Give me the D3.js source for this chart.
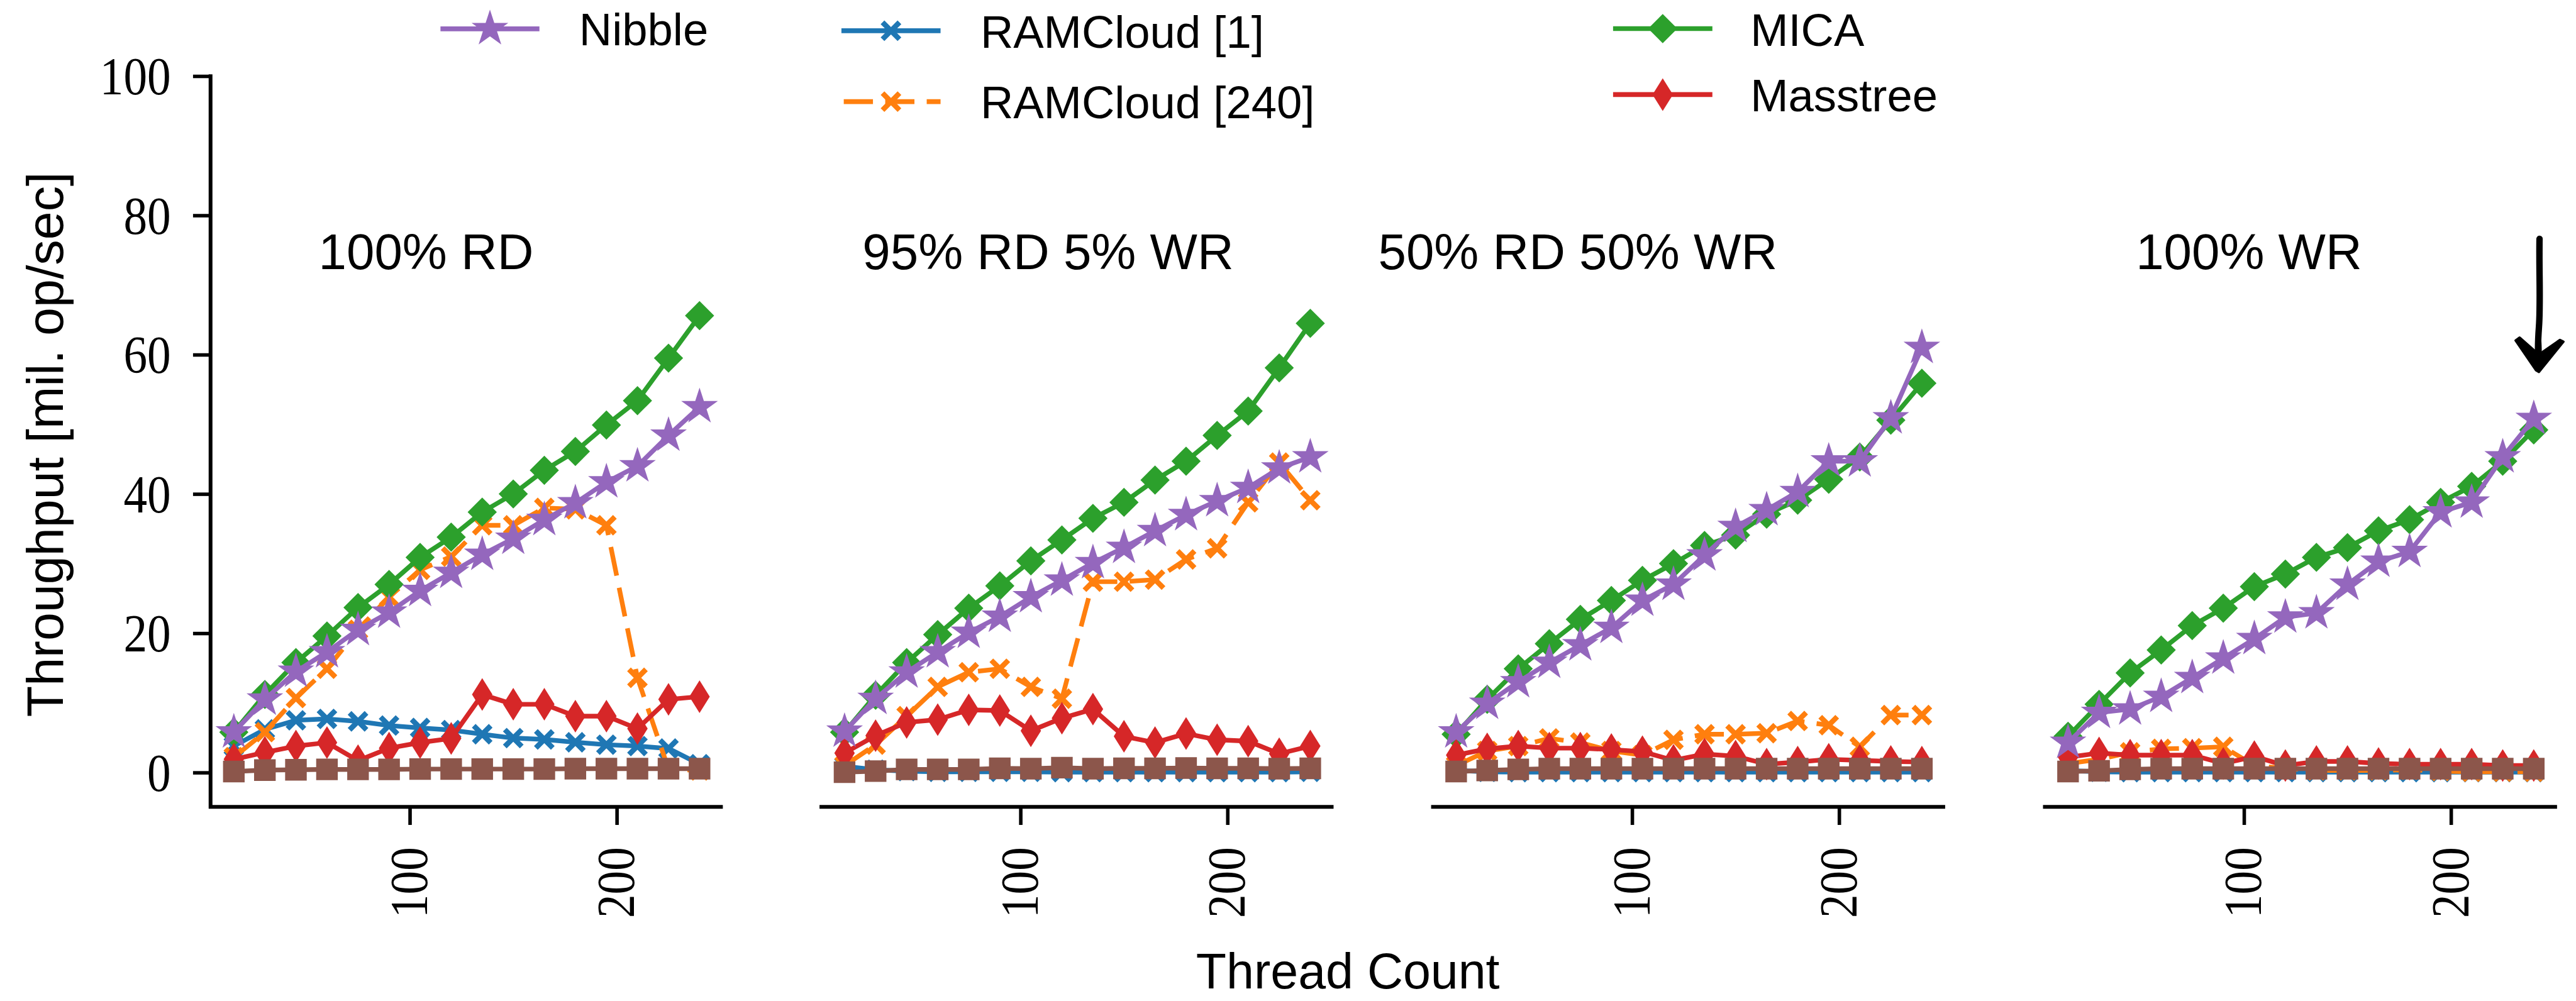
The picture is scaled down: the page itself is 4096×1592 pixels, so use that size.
<!DOCTYPE html>
<html>
<head>
<meta charset="utf-8">
<script src="https://cdn.jsdelivr.net/npm/d3@7"></script>
<style>
  html, body { margin: 0; padding: 0; background: #ffffff; }
  svg { display: block; }
</style>
</head>
<body>
<script>
// ---------------- DATA ----------------
const threads = [15, 30, 45, 60, 75, 90, 105, 120, 135, 150, 165, 180, 195, 210, 225, 240];
const panelTitles = ["100% RD", "95% RD 5% WR", "50% RD 50% WR", "100% WR"];
const seriesNames = ["Nibble", "RAMCloud [1]", "RAMCloud [240]", "MICA", "Masstree"];
const yTicks = [0, 20, 40, 60, 80, 100];
const xTicks = [100, 200];

// one array per panel (100% RD, 95/5, 50/50, 100% WR)
const nibble = [
  [5.8, 10.5, 14.5, 17.3, 20.5, 23.0, 26.1, 28.7, 31.3, 33.6, 36.3, 38.7, 41.7, 44.0, 48.4, 52.5],
  [5.9, 10.6, 14.4, 17.3, 20.1, 22.4, 25.2, 27.6, 30.1, 32.3, 34.7, 37.0, 39.0, 40.9, 43.7, 45.3],
  [5.8, 9.9, 13.0, 15.8, 18.3, 20.8, 24.7, 27.0, 31.2, 35.3, 37.7, 40.3, 44.7, 44.7, 50.9, 61.0],
  [4.3, 8.6, 9.1, 10.9, 13.6, 16.4, 19.2, 22.3, 22.9, 27.0, 30.3, 31.7, 37.4, 38.8, 45.3, 50.8]
];
const ramcloud1 = [
  [3.8, 6.2, 7.5, 7.7, 7.35, 6.75, 6.4, 6.1, 5.5, 4.95, 4.75, 4.35, 4.0, 3.8, 3.45, 1.2],
  [0.9, 0.4, 0.2, 0.1, 0.1, 0.1, 0.1, 0.05, 0.05, 0.05, 0.05, 0.05, 0.05, 0.05, 0.05, 0.1],
  [0.3, 0.1, 0.05, 0.05, 0.05, 0.05, 0.05, 0.05, 0.05, 0.05, 0.05, 0.05, 0.05, 0.05, 0.05, 0.05],
  [0.3, 0.1, 0.05, 0.05, 0.05, 0.05, 0.05, 0.05, 0.05, 0.05, 0.05, 0.05, 0.05, 0.05, 0.05, 0.05]
];
const ramcloud240 = [
  [2.2, 5.8, 10.7, 14.9, 20.5, 25.2, 29.1, 31.0, 35.5, 35.5, 38.0, 37.8, 35.5, 13.6, 0.5, 0.3],
  [1.0, 4.0, 8.1, 12.3, 14.4, 14.9, 12.3, 10.6, 27.4, 27.4, 27.7, 30.6, 32.2, 38.8, 44.5, 39.1],
  [1.0, 3.1, 3.8, 4.9, 4.3, 3.1, 2.5, 4.7, 5.5, 5.5, 5.65, 7.4, 6.8, 3.7, 8.25, 8.25],
  [1.3, 1.9, 2.9, 3.4, 3.5, 3.7, 1.0, 0.6, 0.3, 0.3, 0.3, 0.4, 0.2, 0.1, 0.1, 0.1]
];
const mica = [
  [5.8, 11.2, 15.8, 19.6, 23.7, 27.0, 30.9, 33.8, 37.4, 40.0, 43.4, 46.1, 49.9, 53.4, 59.5, 65.6],
  [5.8, 11.1, 15.8, 19.8, 23.6, 26.8, 30.4, 33.4, 36.5, 38.8, 42.0, 44.7, 48.4, 51.9, 58.1, 64.5],
  [5.5, 10.5, 14.9, 18.5, 22.0, 24.7, 27.6, 30.0, 32.6, 34.1, 37.1, 39.1, 42.1, 45.3, 50.6, 55.9],
  [5.2, 9.8, 14.3, 17.6, 21.1, 23.6, 26.7, 28.5, 30.9, 32.3, 34.7, 36.3, 38.8, 41.1, 44.7, 49.2]
];
const masstree = [
  [1.9, 2.9, 3.8, 4.3, 1.7, 3.5, 4.3, 4.9, 11.2, 9.8, 9.8, 8.1, 8.1, 6.3, 10.5, 10.9],
  [2.8, 5.3, 7.2, 7.6, 9.0, 8.9, 6.0, 7.8, 9.1, 5.2, 4.3, 5.6, 4.7, 4.5, 2.7, 3.8],
  [2.5, 3.4, 3.8, 3.5, 3.5, 3.3, 3.0, 1.75, 2.65, 2.35, 1.2, 1.5, 1.9, 1.75, 1.6, 1.5],
  [2.2, 2.8, 2.5, 2.5, 2.5, 1.3, 2.3, 1.0, 1.6, 1.6, 1.3, 1.2, 1.2, 1.2, 1.0, 1.0]
];
const unlabeled = [
  [0.15, 0.35, 0.4, 0.45, 0.45, 0.45, 0.5, 0.5, 0.5, 0.5, 0.5, 0.55, 0.55, 0.55, 0.55, 0.55],
  [0.05, 0.2, 0.45, 0.45, 0.45, 0.6, 0.55, 0.7, 0.55, 0.6, 0.6, 0.65, 0.6, 0.6, 0.55, 0.6],
  [0.15, 0.3, 0.45, 0.55, 0.55, 0.55, 0.55, 0.55, 0.55, 0.55, 0.55, 0.55, 0.55, 0.55, 0.55, 0.55],
  [0.15, 0.25, 0.45, 0.55, 0.55, 0.55, 0.55, 0.55, 0.55, 0.55, 0.55, 0.55, 0.55, 0.55, 0.55, 0.55]
];

// ---------------- STYLE / LAYOUT ----------------
const SANS = "'Liberation Sans', Arial, sans-serif";
const SERIF = "'Liberation Serif', 'Times New Roman', serif";
const panelLeft = [360, 1405.5, 2452.5, 3500];
const panelWidth = 877;
const axisLineY = 1381.5;
const titleX = [545, 1476, 2359, 3656];
const titleY = 461;

const starPath = (R) => {
  const pts = [];
  for (let i = 0; i < 10; i++) {
    const a = -Math.PI / 2 + i * Math.PI / 5;
    const r = i % 2 === 0 ? R : R * 0.382;
    pts.push([r * Math.cos(a), r * Math.sin(a)]);
  }
  return "M" + pts.map(p => p[0].toFixed(2) + "," + p[1].toFixed(2)).join("L") + "Z";
};
const diamondPath = (w, h) => `M0,${-h}L${w},0L0,${h}L${-w},0Z`;
const squarePath = (s) => `M${-s/2},${-s/2}H${s/2}V${s/2}H${-s/2}Z`;
const xPath = (s) => `M${-s},${-s}L${s},${s}M${-s},${s}L${s},${-s}`;

const styles = {
  ram1:   { color: "#1f77b4", dash: null,    marker: xPath(14.5),             fill: false, mw: 9 },
  ram240: { color: "#ff7f0e", dash: "50,21", marker: xPath(14.5),             fill: false, mw: 9 },
  mica:   { color: "#2ca02c", dash: null,    marker: diamondPath(25, 25),     fill: true },
  mass:   { color: "#d62728", dash: null,    marker: diamondPath(17.5, 28),   fill: true },
  nibble: { color: "#9467bd", dash: null,    marker: starPath(33),            fill: true },
  other:  { color: "#8c564b", dash: null,    marker: squarePath(37),          fill: true }
};
const drawOrder = [
  ["ram1", ramcloud1], ["ram240", ramcloud240], ["mica", mica],
  ["mass", masstree], ["nibble", nibble], ["other", unlabeled]
];
const LW = 8;

// ---------------- DRAW ----------------
const svg = d3.select("body").append("svg")
  .attr("width", 4096).attr("height", 1592)
  .attr("viewBox", "0 0 4409 1714");

svg.append("rect").attr("width", 4409).attr("height", 1714).attr("fill", "#fff");

const y = d3.scaleLinear().domain([0, 100]).range([1322.8, 130.3]);

// y axis (only on first panel)
const yAxis = d3.axisLeft(y).tickValues(yTicks).tickSize(30).tickPadding(38).tickSizeOuter(0);
const gy = svg.append("g").attr("transform", `translate(${panelLeft[0]},0)`).call(yAxis);
gy.select(".domain").remove();
gy.selectAll(".tick line").attr("stroke", "#000").attr("stroke-width", 6);
gy.selectAll(".tick text")
  .attr("font-family", SERIF).attr("font-size", 90).attr("fill", "#000")
  .attr("dy", "31px")
  .attr("textLength", d => String(d).length * 40.5)
  .attr("lengthAdjust", "spacingAndGlyphs");
svg.append("line")
  .attr("x1", panelLeft[0]).attr("x2", panelLeft[0])
  .attr("y1", y(100) - 3).attr("y2", axisLineY + 3)
  .attr("stroke", "#000").attr("stroke-width", 6.5);

svg.append("text")
  .attr("transform", `translate(107,761) rotate(-90)`)
  .attr("text-anchor", "middle")
  .attr("font-family", SANS).attr("font-size", 87).attr("fill", "#000")
  .text("Throughput [mil. op/sec]");

const lineGen = d3.line();

panelTitles.forEach((title, p) => {
  const x = d3.scaleLinear().domain([3.75, 251.25]).range([panelLeft[p], panelLeft[p] + panelWidth]);

  const xAxis = d3.axisBottom(x).tickValues(xTicks).tickSize(31).tickSizeOuter(0);
  const gx = svg.append("g").attr("transform", `translate(0,${axisLineY})`).call(xAxis);
  gx.select(".domain").remove();
  gx.append("line").attr("x1", panelLeft[p] - 3).attr("x2", panelLeft[p] + panelWidth)
    .attr("y1", 0).attr("y2", 0).attr("stroke", "#000").attr("stroke-width", 6.5);
  gx.selectAll(".tick line").attr("stroke", "#000").attr("stroke-width", 6);
  gx.selectAll(".tick text")
    .attr("font-family", SERIF).attr("font-size", 90).attr("fill", "#000")
    .attr("text-anchor", "end").attr("x", 0).attr("y", 0).attr("dy", 0)
    .attr("transform", "translate(29,69) rotate(-90)")
    .attr("textLength", d => String(d).length * 40.5)
    .attr("lengthAdjust", "spacingAndGlyphs");

  svg.append("text")
    .attr("x", titleX[p]).attr("y", titleY)
    .attr("font-family", SANS).attr("font-size", 86).attr("fill", "#000")
    .text(title);

  drawOrder.forEach(([key, arr]) => {
    const st = styles[key];
    const vals = arr[p];
    const pts = threads.map((t, i) => [x(t), y(vals[i])]);
    const g = svg.append("g");
    g.append("path")
      .attr("d", lineGen(pts))
      .attr("fill", "none").attr("stroke", st.color).attr("stroke-width", LW)
      .attr("stroke-linejoin", "round")
      .attr("stroke-dasharray", st.dash);
    g.selectAll("path.mk").data(pts).join("path").attr("class", "mk")
      .attr("transform", d => `translate(${d[0]},${d[1]})`)
      .attr("d", st.marker)
      .attr("fill", st.fill ? st.color : "none")
      .attr("stroke", st.fill ? "none" : st.color)
      .attr("stroke-width", st.fill ? 0 : st.mw);
  });
});

// x label
svg.append("text")
  .attr("x", 2307).attr("y", 1692).attr("text-anchor", "middle")
  .attr("font-family", SANS).attr("font-size", 85).attr("fill", "#000")
  .text("Thread Count");

// ---------------- LEGEND ----------------
const legendItems = [
  { name: seriesNames[0], key: "nibble", x0: 753.6, x1: 923, ly: 49.5, tx: 991, ty: 77.7 },
  { name: seriesNames[1], key: "ram1",   x0: 1440,  x1: 1609.7, ly: 52.7, tx: 1678, ty: 81.7 },
  { name: seriesNames[2], key: "ram240", x0: 1440,  x1: 1609.7, ly: 174, tx: 1678, ty: 202.7 },
  { name: seriesNames[3], key: "mica",   x0: 2761,  x1: 2931, ly: 49, tx: 2996, ty: 78.5 },
  { name: seriesNames[4], key: "mass",   x0: 2761,  x1: 2931, ly: 162, tx: 2996, ty: 190.2 }
];
const lg = svg.append("g");
legendItems.forEach(it => {
  const st = styles[it.key];
  lg.append("line")
    .attr("x1", it.x0 + (st.dash ? 4 : 0)).attr("x2", it.x1)
    .attr("y1", it.ly).attr("y2", it.ly)
    .attr("stroke", st.color).attr("stroke-width", 8.3)
    .attr("stroke-dasharray", st.dash);
  lg.append("path")
    .attr("transform", `translate(${(it.x0 + it.x1) / 2},${it.ly})`)
    .attr("d", st.marker)
    .attr("fill", st.fill ? st.color : "none")
    .attr("stroke", st.fill ? "none" : st.color)
    .attr("stroke-width", st.fill ? 0 : st.mw);
  lg.append("text")
    .attr("x", it.tx).attr("y", it.ty)
    .attr("font-family", SANS).attr("font-size", 78).attr("fill", "#000")
    .text(it.name);
});

// ---------------- hand-drawn arrow annotation ----------------
const ag = svg.append("g").attr("fill", "none").attr("stroke", "#000").attr("stroke-linecap", "round");
ag.append("path").attr("d", "M4347,409 C4346,460 4349,520 4346,560 S4345,600 4345,628").attr("stroke-width", 11);
ag.append("path").attr("d", "M4349,414 C4348,470 4344,530 4347,580 S4344,610 4344,625").attr("stroke-width", 6);
ag.append("path").attr("d", "M4345,420 C4345,480 4347,540 4343,600").attr("stroke-width", 5);
ag.append("path")
  .attr("d", "M4306,583 L4313,578 L4346,607 L4382,582 L4388,585 L4346,637 L4341,634 Z")
  .attr("fill", "#000").attr("stroke", "#000").attr("stroke-width", 4).attr("stroke-linejoin", "round");
</script>
</body>
</html>
